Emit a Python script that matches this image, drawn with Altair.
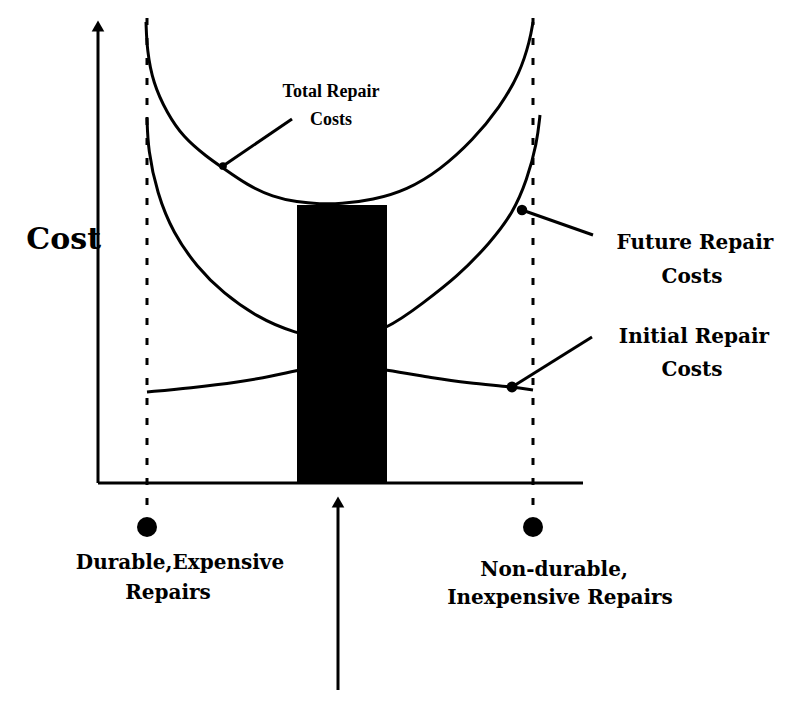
import altair as alt
import pandas as pd

# Coordinates in diagram units (origin at the axes' corner)
total_x = [48, 49, 55, 69, 85, 109, 125, 149, 175, 199, 222, 242, 275, 309, 342, 375, 402, 422, 432, 435]
total_y = [461, 433, 400, 370, 346, 326, 315, 298, 286, 281, 279, 279, 283, 293, 313, 343, 376, 410, 443, 461]

future_x = [49, 50, 59, 75, 99, 125, 159, 195, 242, 289, 325, 359, 392, 415, 429, 439, 442]
future_y = [366, 333, 290, 250, 216, 190, 166, 150, 141, 153, 180, 206, 240, 270, 303, 340, 368]

initial_x = [49, 92, 142, 175, 199, 244, 289, 335, 369, 415, 435]
initial_y = [91, 95, 101, 107, 113, 119, 113, 105, 100, 96, 93]

band_x = [199, 289]
band_y = [0, 278]

bounds_x = [49, 435]
bounds_y = [-22, 473]

end_labels = ["Durable,Expensive", "Repairs", "Non-durable,", "Inexpensive Repairs"]
end_label_x = [82, 70, 456, 462]
end_label_y = [-80, -110, -87, -115]

curve_labels = ["Future Repair", "Costs", "Initial Repair", "Costs"]
curve_label_x = [597, 594, 596, 594]
curve_label_y = [240, 206, 146, 113]

total_labels = ["Total Repair", "Costs"]
total_label_x = [233, 233]
total_label_y = [391, 363]

pointer_x = [194, 495, 494]
pointer_y = [364, 248, 146]
pointer_x2 = [125, 424, 414]
pointer_y2 = [317, 273, 96]

xs = alt.Scale(domain=[-90, 688], nice=False, zero=False)
ys = alt.Scale(domain=[-228, 475], nice=False, zero=False)

def X(f="x"):
    return alt.X(f + ":Q", scale=xs, axis=None)

def Y(f="y"):
    return alt.Y(f + ":Q", scale=ys, axis=None)

curves = pd.concat([
    pd.DataFrame({"x": total_x, "y": total_y, "c": "Total"}),
    pd.DataFrame({"x": future_x, "y": future_y, "c": "Future"}),
    pd.DataFrame({"x": initial_x, "y": initial_y, "c": "Initial"}),
])

lines = alt.Chart(curves).mark_line(color="black", strokeWidth=3, interpolate="basis").encode(
    x=X(), y=Y(), detail="c:N", order="x:Q"
)

band = alt.Chart(pd.DataFrame({"x": [band_x[0]], "x2": [band_x[1]], "y": [band_y[0]], "y2": [band_y[1]]})).mark_rect(
    color="black"
).encode(x=X(), x2="x2:Q", y=Y(), y2="y2:Q")

dashed = alt.Chart(pd.DataFrame({"x": bounds_x, "y": [bounds_y[0]] * 2, "y2": [bounds_y[1]] * 2})).mark_rule(
    color="black", strokeWidth=3, strokeDash=[7, 13]
).encode(x=X(), y=Y(), y2="y2:Q")

axes = alt.Chart(pd.DataFrame({
    "x": [0, 0, 240], "y": [0, 0, -207], "x2": [0, 485, 240], "y2": [455, 0, -17]
})).mark_rule(color="black", strokeWidth=3).encode(x=X(), y=Y(), x2="x2:Q", y2="y2:Q")

heads = alt.Chart(pd.DataFrame({"x": [0, 240], "y": [457, -19]})).mark_point(
    shape="triangle-up", filled=True, color="black", size=160, opacity=1
).encode(x=X(), y=Y())

end_dots = alt.Chart(pd.DataFrame({"x": bounds_x, "y": [-44, -44]})).mark_point(
    shape="circle", filled=True, color="black", size=400, opacity=1
).encode(x=X(), y=Y())

pointers = alt.Chart(pd.DataFrame({"x": pointer_x, "y": pointer_y, "x2": pointer_x2, "y2": pointer_y2})).mark_rule(
    color="black", strokeWidth=3
).encode(x=X(), y=Y(), x2="x2:Q", y2="y2:Q")

pointer_dots = alt.Chart(pd.DataFrame({"x": pointer_x2, "y": pointer_y2, "s": [60, 110, 120]})).mark_point(
    shape="circle", filled=True, color="black", opacity=1
).encode(x=X(), y=Y(), size=alt.Size("s:Q", scale=None, legend=None))

cost_label = alt.Chart(pd.DataFrame({"x": [3], "y": [243], "t": ["Cost"]})).mark_text(
    font="DejaVu Serif", fontWeight="bold", fontSize=30, align="right", baseline="middle", color="black"
).encode(x=X(), y=Y(), text="t:N")

end_text = alt.Chart(pd.DataFrame({"x": end_label_x, "y": end_label_y, "t": end_labels})).mark_text(
    font="DejaVu Serif", fontWeight="bold", fontSize=20, align="center", baseline="middle", color="black"
).encode(x=X(), y=Y(), text="t:N")

curve_text = alt.Chart(pd.DataFrame({"x": curve_label_x, "y": curve_label_y, "t": curve_labels})).mark_text(
    font="DejaVu Serif", fontWeight="bold", fontSize=20, align="center", baseline="middle", color="black"
).encode(x=X(), y=Y(), text="t:N")

total_text = alt.Chart(pd.DataFrame({"x": total_label_x, "y": total_label_y, "t": total_labels})).mark_text(
    font="Liberation Serif", fontWeight="bold", fontSize=18, align="center", baseline="middle", color="black"
).encode(x=X(), y=Y(), text="t:N")

chart = alt.layer(
    dashed, lines, band, axes, heads, end_dots, pointers, pointer_dots,
    cost_label, end_text, curve_text, total_text
).properties(
    width=778, height=703, padding=0,
    autosize=alt.AutoSizeParams(type="fit", contains="padding"),
    background="white"
).configure_view(stroke=None)

chart.save("out.html", embed_options={"renderer": "svg", "actions": False})
